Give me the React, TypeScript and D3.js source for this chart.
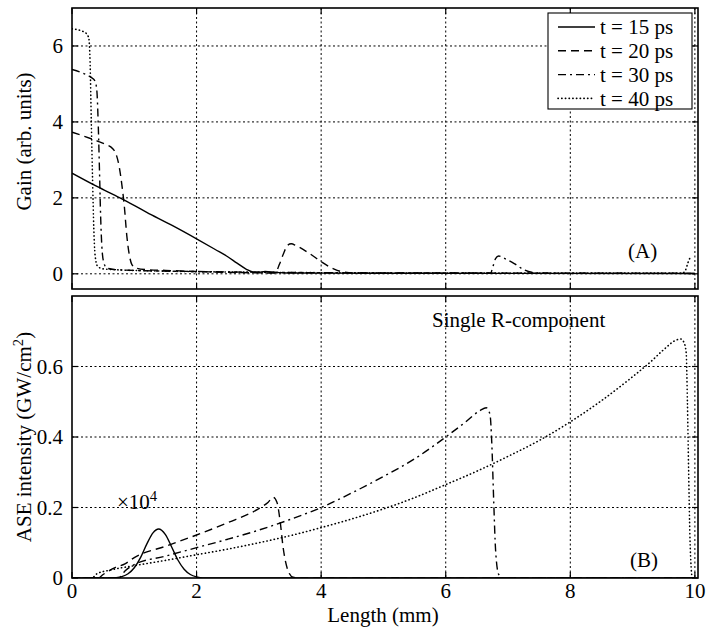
import React from 'react';
import * as d3 from 'd3';

// Axis ticks
const lengthTicks = [0, 2, 4, 6, 8, 10];
const gainTicks = [0, 2, 4, 6];
const aseTicks = [0, 0.2, 0.4, 0.6];
const seriesLabels = ['t = 15 ps', 't = 20 ps', 't = 30 ps', 't = 40 ps'];

type Pt = [number, number];

// Gain vs length (mm)
const gain15: Pt[] = [
  [0, 2.65], [0.4, 2.3], [0.77, 2.0], [1.2, 1.62], [1.6, 1.28], [2.0, 0.92], [2.3, 0.64],
  [2.5, 0.45], [2.65, 0.28], [2.8, 0.12], [2.9, 0.05], [3.0, 0.04], [3.1, 0.06], [3.25, 0.04],
  [3.5, 0.02], [5, 0.015], [10, 0.01],
];
const gain20: Pt[] = [
  [0, 3.73], [0.2, 3.62], [0.4, 3.5], [0.55, 3.4], [0.65, 3.3], [0.71, 3.14], [0.76, 2.8],
  [0.8, 2.35], [0.84, 1.78], [0.88, 1.0], [0.92, 0.5], [0.96, 0.25], [1.03, 0.15], [1.2, 0.11],
  [1.5, 0.09], [2.0, 0.06], [2.5, 0.04], [3.0, 0.025], [3.26, 0.02], [3.33, 0.25], [3.4, 0.55],
  [3.46, 0.75], [3.52, 0.79], [3.6, 0.74], [3.8, 0.55], [4.0, 0.32], [4.2, 0.13], [4.35, 0.05],
  [4.6, 0.02], [10, 0.01],
];
const gain30: Pt[] = [
  [0, 5.38], [0.15, 5.3], [0.3, 5.18], [0.37, 5.08], [0.4, 4.8], [0.42, 4.0], [0.44, 2.8],
  [0.46, 1.5], [0.48, 0.7], [0.51, 0.3], [0.56, 0.15], [0.7, 0.11], [1.0, 0.09], [2.0, 0.06],
  [3.0, 0.04], [4.0, 0.03], [5.0, 0.02], [6.0, 0.02], [6.72, 0.02], [6.76, 0.2], [6.8, 0.4],
  [6.85, 0.47], [6.95, 0.4], [7.1, 0.27], [7.25, 0.11], [7.38, 0.04], [7.6, 0.02], [10, 0.01],
];
const gain40: Pt[] = [
  [0, 6.45], [0.15, 6.4], [0.23, 6.33], [0.27, 6.2], [0.29, 5.6], [0.31, 4.0], [0.33, 2.5],
  [0.35, 1.2], [0.37, 0.5], [0.41, 0.2], [0.5, 0.13], [0.8, 0.1], [1.5, 0.07], [3.0, 0.04],
  [6.0, 0.02], [9.8, 0.02], [9.85, 0.1], [9.89, 0.3], [9.93, 0.45],
];

// ASE intensity (GW/cm^2) vs length (mm); the t = 15 ps curve is scaled by 10^4
const ase15: Pt[] = [
  [0, 0], [0.6, 0], [0.7, 0.001], [0.8, 0.004], [0.9, 0.012], [1.0, 0.029], [1.1, 0.058],
  [1.2, 0.096], [1.3, 0.128], [1.39, 0.139], [1.5, 0.123], [1.6, 0.088], [1.7, 0.051],
  [1.8, 0.025], [1.9, 0.01], [2.0, 0.003], [2.1, 0], [10, 0],
];
const ase20: Pt[] = [
  [0, 0], [0.42, 0], [0.5, 0.01], [0.7, 0.03], [0.85, 0.04], [1.0, 0.058], [1.5, 0.09],
  [2.0, 0.122], [2.5, 0.157], [3.0, 0.197], [3.15, 0.215], [3.23, 0.229], [3.29, 0.215],
  [3.34, 0.163], [3.39, 0.086], [3.47, 0.02], [3.55, 0.002], [3.65, 0], [10, 0],
];
const ase30: Pt[] = [
  [0, 0], [0.75, 0], [0.85, 0.02], [1.0, 0.038], [1.5, 0.062], [2.0, 0.086], [2.5, 0.11],
  [3.0, 0.136], [3.5, 0.166], [4.0, 0.2], [4.5, 0.242], [5.0, 0.288], [5.5, 0.338], [6.0, 0.4],
  [6.3, 0.44], [6.55, 0.475], [6.65, 0.483], [6.71, 0.465], [6.74, 0.38], [6.77, 0.22],
  [6.8, 0.08], [6.85, 0.01], [6.92, 0], [10, 0],
];
const ase40: Pt[] = [
  [0, 0], [0.32, 0], [0.4, 0.012], [0.6, 0.022], [1.0, 0.035], [1.5, 0.05], [2.0, 0.066],
  [2.5, 0.082], [3.0, 0.1], [3.5, 0.12], [4.0, 0.143], [4.5, 0.168], [5.0, 0.196], [5.5, 0.228],
  [6.0, 0.265], [6.5, 0.303], [7.0, 0.345], [7.5, 0.39], [8.0, 0.443], [8.5, 0.503], [9.0, 0.571],
  [9.3, 0.615], [9.5, 0.648], [9.7, 0.675], [9.77, 0.678], [9.82, 0.67], [9.86, 0.64],
  [9.88, 0.5], [9.9, 0.3], [9.92, 0.12], [9.94, 0.03], [9.96, 0], [10, 0],
];

const gainSeries = [gain15, gain20, gain30, gain40];
const aseSeries = [ase15, ase20, ase30, ase40];

const FONT = "'Liberation Serif', 'Times New Roman', serif";
const FS = 21;

const lineStyles = [
  { dash: undefined as string | undefined, cap: 'butt' as const, width: 1.4 },
  { dash: '8,5', cap: 'butt' as const, width: 1.4 },
  { dash: '8,4,2,4', cap: 'butt' as const, width: 1.4 },
  { dash: '0.3,3.4', cap: 'round' as const, width: 1.6 },
];

const W = 710;
const H = 631;
const left = 72;
const right = 698;

const x = d3.scaleLinear().domain([0, 10.05]).range([left, right]);
const yGain = d3.scaleLinear().domain([-0.4, 7]).range([289, 8]);
const yAse = d3.scaleLinear().domain([0, 0.8]).range([578, 296]);

function Panel({
  id,
  y,
  yTicks,
  series,
  fmt,
  gridZero,
}: {
  id: string;
  y: d3.ScaleLinear<number, number>;
  yTicks: number[];
  series: Pt[][];
  fmt: (v: number) => string;
  gridZero: boolean;
}) {
  const [y0, y1] = y.range();
  const top = Math.min(y0, y1);
  const bottom = Math.max(y0, y1);
  const line = d3
    .line<Pt>()
    .x((d) => x(d[0]))
    .y((d) => y(d[1]))
    .curve(d3.curveMonotoneX);
  const tickLen = 6;
  return (
    <g>
      <defs>
        <clipPath id={`clip-${id}`}>
          <rect x={left} y={top} width={right - left} height={bottom - top} />
        </clipPath>
      </defs>
      {/* grid */}
      <g stroke="#000" strokeWidth={1} strokeDasharray="2,2.5">
        {lengthTicks
          .filter((t) => t > 0)
          .map((t) => (
            <line key={`gx${t}`} x1={x(t)} x2={x(t)} y1={top} y2={bottom} />
          ))}
        {yTicks
          .filter((t) => gridZero || t > 0)
          .map((t) => (
            <line key={`gy${t}`} x1={left} x2={right} y1={y(t)} y2={y(t)} />
          ))}
      </g>
      {/* curves */}
      <g clipPath={`url(#clip-${id})`} fill="none" stroke="#000">
        {series.map((s, i) => (
          <path
            key={i}
            d={line(s) || ''}
            strokeWidth={lineStyles[i].width}
            strokeDasharray={lineStyles[i].dash}
            strokeLinecap={lineStyles[i].cap}
          />
        ))}
      </g>
      {/* ticks */}
      <g stroke="#000" strokeWidth={1.2}>
        {lengthTicks.map((t) => (
          <g key={`tx${t}`}>
            <line x1={x(t)} x2={x(t)} y1={bottom} y2={bottom - tickLen} />
            <line x1={x(t)} x2={x(t)} y1={top} y2={top + tickLen} />
          </g>
        ))}
        {yTicks.map((t) => (
          <g key={`ty${t}`}>
            <line x1={left} x2={left + tickLen} y1={y(t)} y2={y(t)} />
            <line x1={right} x2={right - tickLen} y1={y(t)} y2={y(t)} />
          </g>
        ))}
      </g>
      {/* frame */}
      <rect
        x={left}
        y={top}
        width={right - left}
        height={bottom - top}
        fill="none"
        stroke="#000"
        strokeWidth={1.6}
      />
      {/* y tick labels */}
      <g fontFamily={FONT} fontSize={FS} textAnchor="end">
        {yTicks.map((t) => (
          <text key={`ly${t}`} x={left - 9} y={y(t)} dy="0.35em">
            {fmt(t)}
          </text>
        ))}
      </g>
    </g>
  );
}

export default function App() {
  const legendX = 548;
  const legendY = 13;
  const rowH = 23.8;
  return (
    <svg
      width={W}
      height={H}
      viewBox={`0 0 ${W} ${H}`}
      style={{ position: 'absolute', left: 0, top: 0, background: '#fff' }}
    >
      <rect width={W} height={H} fill="#fff" />
      <Panel id="gain" y={yGain} yTicks={gainTicks} series={gainSeries} fmt={(v) => String(v)} gridZero />
      <Panel
        id="ase"
        y={yAse}
        yTicks={aseTicks}
        series={aseSeries}
        fmt={(v) => (v === 0 ? '0' : v.toFixed(1))}
        gridZero={false}
      />

      {/* x tick labels */}
      <g fontFamily={FONT} fontSize={FS} textAnchor="middle">
        {lengthTicks.map((t) => (
          <text key={`lx${t}`} x={x(t)} y={598}>
            {t}
          </text>
        ))}
      </g>

      {/* axis titles */}
      <g fontFamily={FONT} fontSize={FS} textAnchor="middle">
        <text x={(left + right) / 2 - 2} y={622}>Length (mm)</text>
        <text transform={`translate(31, ${(yGain(7) + yGain(-0.4)) / 2 - 7}) rotate(-90)`}>
          Gain (arb. units)
        </text>
        <text transform={`translate(31, ${(yAse(0) + yAse(0.8)) / 2}) rotate(-90)`}>
          ASE intensity (GW/cm
          <tspan baselineShift="super" fontSize={FS * 0.7}>2</tspan>)
        </text>
      </g>

      {/* annotations */}
      <g fontFamily={FONT} fontSize={FS}>
        <text x={628} y={258}>(A)</text>
        <text x={630} y={567}>(B)</text>
        <text x={432} y={327}>Single R-component</text>
        <text x={117} y={509}>
          ×10
          <tspan baselineShift="super" fontSize={FS * 0.7}>4</tspan>
        </text>
      </g>

      {/* legend */}
      <g>
        <rect x={legendX} y={legendY} width={144} height={96} fill="#fff" stroke="#000" strokeWidth={1.1} />
        {seriesLabels.map((label, i) => {
          const cy = legendY + 14 + i * rowH;
          return (
            <g key={label}>
              <line
                x1={legendX + 10}
                x2={legendX + 47}
                y1={cy}
                y2={cy}
                stroke="#000"
                strokeWidth={lineStyles[i].width}
                strokeDasharray={lineStyles[i].dash}
                strokeLinecap={lineStyles[i].cap}
              />
              <text x={legendX + 52} y={cy} dy="0.35em" fontFamily={FONT} fontSize={FS}>
                {label}
              </text>
            </g>
          );
        })}
      </g>
    </svg>
  );
}
